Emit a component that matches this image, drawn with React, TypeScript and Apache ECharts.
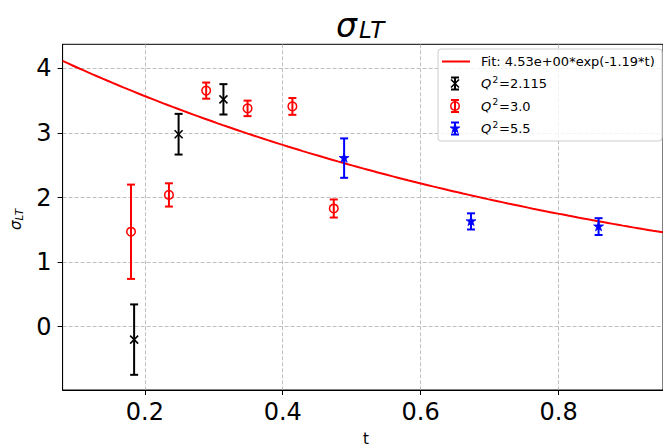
import React, { useEffect, useRef } from "react";
import * as echarts from "echarts";

// ---- data ----
const X_TICKS = [0.2, 0.4, 0.6, 0.8];
const Y_TICKS = [0, 1, 2, 3, 4];
const X_MIN = 0.0808;
const X_MAX = 0.9514;
const Y_MIN = -0.98;
const Y_MAX = 4.372;

const Q2115_T = [0.1845, 0.249, 0.314];
const Q2115_Y = [-0.2, 2.98, 3.52];
const Q2115_ERR = [0.545, 0.315, 0.235];

const Q30_T = [0.18, 0.235, 0.289, 0.349, 0.414, 0.474];
const Q30_Y = [1.47, 2.04, 3.655, 3.38, 3.41, 1.83];
const Q30_ERR = [0.73, 0.18, 0.125, 0.12, 0.13, 0.14];

const Q55_T = [0.489, 0.673, 0.858];
const Q55_Y = [2.61, 1.63, 1.55];
const Q55_ERR = [0.305, 0.125, 0.13];

// fit parameters stated in the legend
const FIT_A = 4.53;
const FIT_B = -1.19;
const FIT_LABEL = "Fit: 4.53e+00*exp(-1.19*t)";

const FONT = "DejaVu Sans";
const RED = "#ff0000";
const BLACK = "#000000";
const BLUE = "#0000ff";

type Kind = "x" | "circle" | "star";

function markerShapes(kind: Kind, cx: number, cy: number, color: string): any[] {
  if (kind === "x") {
    const s = 4;
    return [
      { type: "line", shape: { x1: cx - s, y1: cy - s, x2: cx + s, y2: cy + s }, style: { stroke: color, lineWidth: 1.6 } },
      { type: "line", shape: { x1: cx - s, y1: cy + s, x2: cx + s, y2: cy - s }, style: { stroke: color, lineWidth: 1.6 } },
    ];
  }
  if (kind === "circle") {
    return [{ type: "circle", shape: { cx, cy, r: 4.3 }, style: { fill: "none", stroke: color, lineWidth: 1.5 } }];
  }
  const R = 5.2;
  const r = R * 0.382;
  const pts: number[][] = [];
  for (let i = 0; i < 10; i++) {
    const a = -Math.PI / 2 + (i * Math.PI) / 5;
    const rr = i % 2 === 0 ? R : r;
    pts.push([cx + rr * Math.cos(a), cy + rr * Math.sin(a)]);
  }
  return [{ type: "polygon", shape: { points: pts }, style: { fill: color, stroke: color, lineWidth: 0.8 } }];
}

function errorBarShapes(cx: number, yTop: number, yBot: number, color: string): any[] {
  const cap = 4;
  return [
    { type: "line", shape: { x1: cx, y1: yTop, x2: cx, y2: yBot }, style: { stroke: color, lineWidth: 2 } },
    { type: "line", shape: { x1: cx - cap, y1: yTop, x2: cx + cap, y2: yTop }, style: { stroke: color, lineWidth: 2 } },
    { type: "line", shape: { x1: cx - cap, y1: yBot, x2: cx + cap, y2: yBot }, style: { stroke: color, lineWidth: 2 } },
  ];
}

function errSeries(name: string, ts: number[], ys: number[], es: number[], color: string, kind: Kind) {
  return {
    type: "custom",
    name,
    z: 5,
    data: ts.map((t, i) => [t, ys[i], es[i]]),
    renderItem: (_p: any, api: any) => {
      const t = api.value(0);
      const y = api.value(1);
      const e = api.value(2);
      const c = api.coord([t, y]);
      const top = api.coord([t, y + e]);
      const bot = api.coord([t, y - e]);
      return {
        type: "group",
        children: [...errorBarShapes(c[0], top[1], bot[1], color), ...markerShapes(kind, c[0], c[1], color)],
      };
    },
  };
}

function fitData(): number[][] {
  const out: number[][] = [];
  const n = 120;
  for (let i = 0; i <= n; i++) {
    const t = X_MIN + ((X_MAX - X_MIN) * i) / n;
    out.push([t, FIT_A * Math.exp(FIT_B * t)]);
  }
  return out;
}

function legendGraphics(): any[] {
  const lx = 455;
  const rows = [61.5, 83.5, 106, 128.5];
  const els: any[] = [
    {
      type: "rect",
      shape: { x: 438, y: 49, width: 224, height: 92, r: 3 },
      style: { fill: "rgba(255,255,255,0.8)", stroke: "#cccccc", lineWidth: 1 },
      z: 100,
    },
    { type: "line", shape: { x1: 442, y1: rows[0], x2: 470, y2: rows[0] }, style: { stroke: RED, lineWidth: 2 }, z: 101 },
    {
      type: "text",
      x: 481,
      y: rows[0],
      style: { text: FIT_LABEL, font: `13px '${FONT}'`, fill: "#000", align: "left", verticalAlign: "middle" },
      z: 101,
    },
  ];
  const entries: [string, string, Kind][] = [
    ["2.115", BLACK, "x"],
    ["3.0", RED, "circle"],
    ["5.5", BLUE, "star"],
  ];
  entries.forEach(([val, color, kind], i) => {
    const cy = rows[i + 1];
    errorBarShapes(lx, cy - 6, cy + 6, color).forEach((s) => els.push({ ...s, z: 101 }));
    markerShapes(kind, lx, cy, color).forEach((s) => els.push({ ...s, z: 101 }));
    els.push({
      type: "text",
      x: 481,
      y: cy,
      style: { text: "Q", font: `italic 13px '${FONT}'`, fill: "#000", align: "left", verticalAlign: "middle" },
      z: 101,
    });
    els.push({
      type: "text",
      x: 492.5,
      y: cy - 4,
      style: { text: "2", font: `9px '${FONT}'`, fill: "#000", align: "left", verticalAlign: "middle" },
      z: 101,
    });
    els.push({
      type: "text",
      x: 499,
      y: cy,
      style: { text: "=" + val, font: `13px '${FONT}'`, fill: "#000", align: "left", verticalAlign: "middle" },
      z: 101,
    });
  });
  return els;
}

export default function App() {
  const ref = useRef<HTMLDivElement>(null);
  useEffect(() => {
    if (!ref.current) return;
    const chart = echarts.init(ref.current, null, { renderer: "svg" });
    const gridLine = { show: true, lineStyle: { color: "#b0b0b0", type: [4, 2], width: 0.8 } };
    chart.setOption({
      animation: false,
      backgroundColor: "#ffffff",
      grid: { left: 62.6, top: 44.3, width: 602, height: 345.7, show: true, borderColor: "#000", borderWidth: 1, containLabel: false },
      xAxis: {
        type: "value",
        min: X_MIN,
        max: X_MAX,
        axisLine: { show: true, onZero: false, lineStyle: { color: "#000", width: 1 } },
        axisTick: { show: true, length: 5, customValues: X_TICKS, lineStyle: { color: "#000", width: 1 } },
        axisLabel: {
          customValues: X_TICKS,
          formatter: (v: number) => v.toFixed(1),
          fontFamily: FONT,
          fontSize: 24,
          color: "#000",
          margin: 10,
        },
        splitLine: gridLine,
      },
      yAxis: {
        type: "value",
        min: Y_MIN,
        max: Y_MAX,
        axisLine: { show: true, onZero: false, lineStyle: { color: "#000", width: 1 } },
        axisTick: { show: true, length: 5, customValues: Y_TICKS, lineStyle: { color: "#000", width: 1 } },
        axisLabel: {
          customValues: Y_TICKS,
          formatter: (v: number) => String(v),
          fontFamily: FONT,
          fontSize: 24,
          color: "#000",
          margin: 11,
        },
        splitLine: gridLine,
      },
      graphic: [
        { type: "text", x: 336, y: 25, style: { text: "σ", font: `italic 33px '${FONT}'`, fill: "#000", align: "left", verticalAlign: "middle" } },
        { type: "text", x: 359, y: 30, style: { text: "LT", font: `italic 23px '${FONT}'`, fill: "#000", align: "left", verticalAlign: "middle" } },
        { type: "text", x: 366, y: 439, style: { text: "t", font: `15px '${FONT}'`, fill: "#000", align: "center", verticalAlign: "middle" } },
        {
          type: "group",
          x: 16,
          y: 230,
          rotation: Math.PI / 2,
          children: [
            { type: "text", x: 0, y: 0, style: { text: "σ", font: `italic 15px '${FONT}'`, fill: "#000", align: "left", verticalAlign: "middle" } },
            { type: "text", x: 9.5, y: 3, style: { text: "LT", font: `italic 10.5px '${FONT}'`, fill: "#000", align: "left", verticalAlign: "middle" } },
          ],
        },
        ...legendGraphics(),
      ],
      series: [
        {
          type: "line",
          name: FIT_LABEL,
          data: fitData(),
          showSymbol: false,
          smooth: false,
          lineStyle: { color: RED, width: 2 },
          z: 3,
        },
        errSeries("Q2=2.115", Q2115_T, Q2115_Y, Q2115_ERR, BLACK, "x"),
        errSeries("Q2=3.0", Q30_T, Q30_Y, Q30_ERR, RED, "circle"),
        errSeries("Q2=5.5", Q55_T, Q55_Y, Q55_ERR, BLUE, "star"),
      ],
    });
    return () => chart.dispose();
  }, []);
  return <div ref={ref} style={{ position: "fixed", left: 0, top: 0, width: 663, height: 448 }} />;
}
